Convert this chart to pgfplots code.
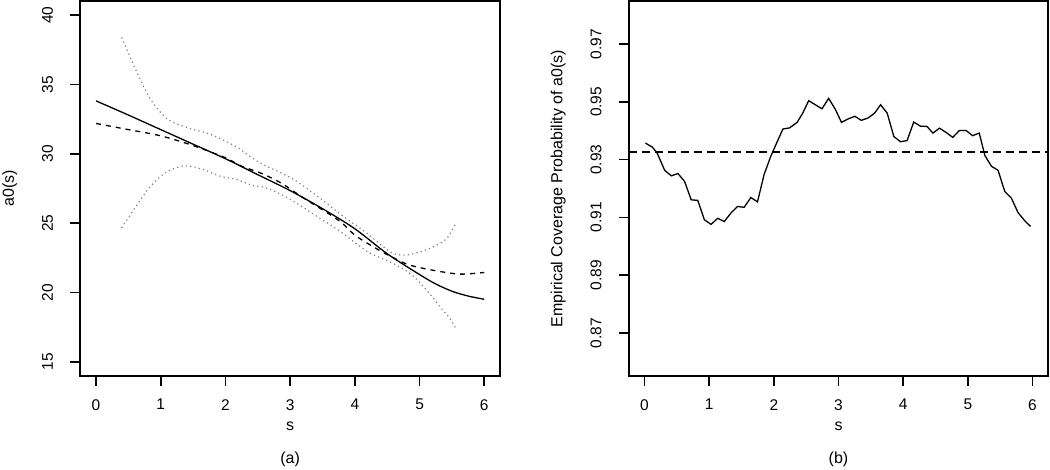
\documentclass[border=0pt]{standalone}
\usepackage{pgfplots}
\pgfplotsset{compat=1.18}
\usepackage{fontspec}
\setmainfont{Liberation Sans}

\pgfplotstableread{
s v
0.00 33.82
0.50 32.80
1.00 31.75
1.50 30.70
2.00 29.65
2.50 28.50
3.00 27.35
3.50 26.05
4.00 24.60
4.50 22.80
5.00 21.30
5.25 20.62
5.50 20.10
5.75 19.75
6.00 19.52
}\solidtab

\pgfplotstableread{
s v
0.00 32.19
0.50 31.75
1.00 31.30
1.50 30.60
2.00 29.72
2.25 29.11
2.56 28.59
2.87 27.87
3.18 26.90
3.745 25.22
4.00 24.14
4.286 23.30
4.467 22.82
4.776 22.10
4.957 21.85
5.266 21.56
5.626 21.33
6.00 21.45
}\dashtab

\pgfplotstableread{
s v
0.397 38.39
0.629 35.91
0.835 33.99
1.092 32.55
1.402 31.90
1.762 31.42
2.170 30.50
2.509 29.42
3.025 28.23
3.436 26.90
3.797 25.58
4.158 24.38
4.544 22.94
4.750 22.70
4.957 22.86
5.213 23.30
5.420 23.90
5.564 25.02
}\uppertab

\pgfplotstableread{
s v
0.397 24.67
0.577 25.94
0.835 27.62
1.092 28.70
1.376 29.14
1.659 28.87
1.917 28.39
2.175 28.15
2.406 27.74
2.663 27.50
3.025 26.66
3.385 25.58
3.745 24.50
4.054 23.42
4.250 22.80
4.544 22.21
4.853 21.38
5.111 20.17
5.317 18.97
5.470 18.13
5.575 17.29
}\lowertab

\pgfplotstableread{
s v
0.015 0.9357
0.118 0.9344
0.195 0.9323
0.312 0.9263
0.415 0.9244
0.517 0.9252
0.619 0.9225
0.722 0.9161
0.824 0.9159
0.926 0.9092
1.029 0.9076
1.132 0.9097
1.234 0.9086
1.336 0.9115
1.439 0.9138
1.541 0.9135
1.644 0.9169
1.747 0.9154
1.849 0.9248
1.951 0.9311
2.054 0.9363
2.140 0.9406
2.243 0.9410
2.360 0.9429
2.447 0.9461
2.539 0.9504
2.642 0.9490
2.745 0.9476
2.847 0.9512
2.949 0.9475
3.046 0.9429
3.149 0.9441
3.252 0.9450
3.353 0.9436
3.456 0.9444
3.559 0.9461
3.651 0.9490
3.753 0.9461
3.856 0.9380
3.958 0.9362
4.061 0.9366
4.163 0.9430
4.266 0.9416
4.368 0.9415
4.460 0.9392
4.562 0.9409
4.665 0.9394
4.767 0.9377
4.869 0.9401
4.972 0.9401
5.074 0.9383
5.177 0.9392
5.264 0.9314
5.366 0.9277
5.468 0.9263
5.571 0.9190
5.673 0.9167
5.776 0.9117
5.878 0.9089
5.970 0.9069
}\covtab

\begin{document}
\fontsize{16}{19}\selectfont
\begin{tikzpicture}[x=1pt,y=1pt]
\useasboundingbox (0,0) rectangle (1050,469);
\pgfplotsset{
  myaxis/.style={
    scale only axis, width=419.3pt, height=374.5pt, anchor=south west,
    axis line style={line width=2pt, black},
    tick pos=left, tick align=outside, major tick length=10pt,
    every tick/.style={black, line width=1.6pt},
    xmin=-0.24, xmax=6.24, xtick={0,...,6},
    /pgf/number format/assume math mode=true,
    ticklabel style={font=\fontsize{15.5}{18}\selectfont},
    label style={font=\fontsize{16}{19}\selectfont},
    xlabel={s},
    xlabel style={at={(axis description cs:0.5,-0.136)}, anchor=center},
    ylabel style={at={(axis description cs:-0.169,0.5)}, anchor=center},
    xticklabel style={yshift=-8pt},
    yticklabel style={xshift=-12pt, rotate=90, anchor=south},
    clip mode=individual,
  }
}
\begin{axis}[myaxis, at={(80.5pt,93.2pt)},
  ymin=14, ymax=41, ytick={15,20,...,40},
  ylabel={a0(s)}]
\addplot[black, line width=1.3pt, smooth, tension=0.5] table[x=s,y=v] {\solidtab};
\addplot[black, line width=1.3pt, smooth, tension=0.5, dash pattern=on 5pt off 5pt] table[x=s,y=v] {\dashtab};
\addplot[gray, line width=1.2pt, smooth, tension=0.5, dash pattern=on 1.2pt off 3.2pt] table[x=s,y=v] {\uppertab};
\addplot[gray, line width=1.2pt, smooth, tension=0.5, dash pattern=on 1.2pt off 3.2pt] table[x=s,y=v] {\lowertab};
\node[font=\fontsize{16}{19}\selectfont] at (axis description cs:0.5,-0.224) {(a)};
\end{axis}
\begin{axis}[myaxis, at={(629pt,93.2pt)}, width=419pt,
  ymin=0.8552, ymax=0.9848, ytick={0.87,0.89,...,0.97},
  yticklabel style={/pgf/number format/.cd, fixed, fixed zerofill, precision=2},
  ylabel={Empirical Coverage Probability of a0(s)}]
\addplot[black, line width=1.3pt] table[x=s,y=v] {\covtab};
\addplot[black, line width=2pt, dash pattern=on 8pt off 5pt] coordinates {(-0.24,0.9325) (6.24,0.9325)};
\node[font=\fontsize{16}{19}\selectfont] at (axis description cs:0.5,-0.224) {(b)};
\end{axis}
\end{tikzpicture}
\end{document}
